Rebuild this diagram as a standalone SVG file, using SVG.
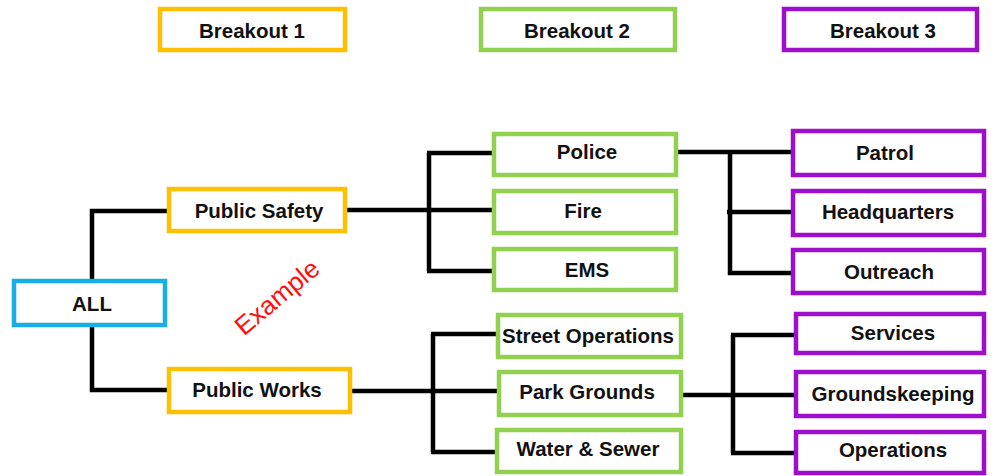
<svg xmlns="http://www.w3.org/2000/svg" width="995" height="476" viewBox="0 0 995 476">
<style>
  .box { fill: #ffffff; stroke-width: 4.5; }
  .b1 { stroke: #FFC000; }
  .b2 { stroke: #92D050; }
  .b3 { stroke: #9E0FCC; }
  .b0 { stroke: #1AAEE6; }
  .lbl { font-family: "Liberation Sans", Arial, sans-serif; font-weight: bold; font-size: 20.5px; fill: #111111; text-anchor: middle; }
  .conn { fill: none; stroke: #000000; stroke-width: 4.5; stroke-linejoin: miter; }
  .ex { font-family: "Liberation Sans", Arial, sans-serif; font-size: 26px; fill: #FF1010; text-anchor: middle; }
</style>
<rect width="995" height="476" fill="#ffffff"/>
<g id="connectors">
  <path class="conn" d="M92,279 V211 H168"/>
  <path class="conn" d="M92,327 V390 H168"/>
  <path class="conn" d="M347,210 H493"/>
  <path class="conn" d="M429,153 V271"/>
  <path class="conn" d="M427,153 H493"/>
  <path class="conn" d="M427,271 H493"/>
  <path class="conn" d="M352,391 H497"/>
  <path class="conn" d="M433,334 V452"/>
  <path class="conn" d="M431,334 H497"/>
  <path class="conn" d="M431,452 H496"/>
  <path class="conn" d="M678,152 H792"/>
  <path class="conn" d="M730,150 V273 H792"/>
  <path class="conn" d="M727,212 H792"/>
  <path class="conn" d="M683,395 H795"/>
  <path class="conn" d="M733,335 V453"/>
  <path class="conn" d="M731,335 H795"/>
  <path class="conn" d="M731,453 H795"/>
</g>
<g id="breakout1"><rect class="box b1" x="160" y="9" width="185" height="41"/><text class="lbl" x="252" y="38">Breakout 1</text></g>
<g id="breakout2"><rect class="box b2" x="481" y="9" width="194" height="41"/><text class="lbl" x="577" y="38">Breakout 2</text></g>
<g id="breakout3"><rect class="box b3" x="784" y="9" width="193" height="41"/><text class="lbl" x="883" y="38">Breakout 3</text></g>
<g id="all"><rect class="box b0" x="14" y="281" width="151" height="44"/><text class="lbl" x="92" y="311">ALL</text></g>
<g id="public-safety"><rect class="box b1" x="169" y="189" width="176" height="42"/><text class="lbl" x="259" y="218">Public Safety</text></g>
<g id="public-works"><rect class="box b1" x="169" y="369" width="181" height="43"/><text class="lbl" x="257" y="397">Public Works</text></g>
<g id="police"><rect class="box b2" x="494" y="134" width="182" height="41"/><text class="lbl" x="587" y="159">Police</text></g>
<g id="fire"><rect class="box b2" x="494" y="191" width="182" height="42"/><text class="lbl" x="583" y="218">Fire</text></g>
<g id="ems"><rect class="box b2" x="494" y="249" width="182" height="41"/><text class="lbl" x="587" y="277">EMS</text></g>
<g id="street-operations"><rect class="box b2" x="498" y="315" width="183" height="42"/><text class="lbl" x="588" y="343">Street Operations</text></g>
<g id="park-grounds"><rect class="box b2" x="499" y="372" width="182" height="43"/><text class="lbl" x="587" y="399">Park Grounds</text></g>
<g id="water-sewer"><rect class="box b2" x="497" y="430" width="184" height="42"/><text class="lbl" x="588" y="456">Water &amp; Sewer</text></g>
<g id="patrol"><rect class="box b3" x="793" y="131" width="191" height="44"/><text class="lbl" x="885" y="160">Patrol</text></g>
<g id="headquarters"><rect class="box b3" x="793" y="191" width="191" height="44"/><text class="lbl" x="888" y="219">Headquarters</text></g>
<g id="outreach"><rect class="box b3" x="793" y="250" width="191" height="43"/><text class="lbl" x="889" y="279">Outreach</text></g>
<g id="services"><rect class="box b3" x="796" y="314" width="188" height="39"/><text class="lbl" x="893" y="340">Services</text></g>
<g id="groundskeeping"><rect class="box b3" x="796" y="372" width="188" height="44"/><text class="lbl" x="893" y="401">Groundskeeping</text></g>
<g id="operations"><rect class="box b3" x="796" y="432" width="188" height="41"/><text class="lbl" x="893" y="457">Operations</text></g>
<g id="example-label"><text class="ex" transform="translate(277,297) rotate(-40)" x="0" y="9">Example</text></g>
</svg>
